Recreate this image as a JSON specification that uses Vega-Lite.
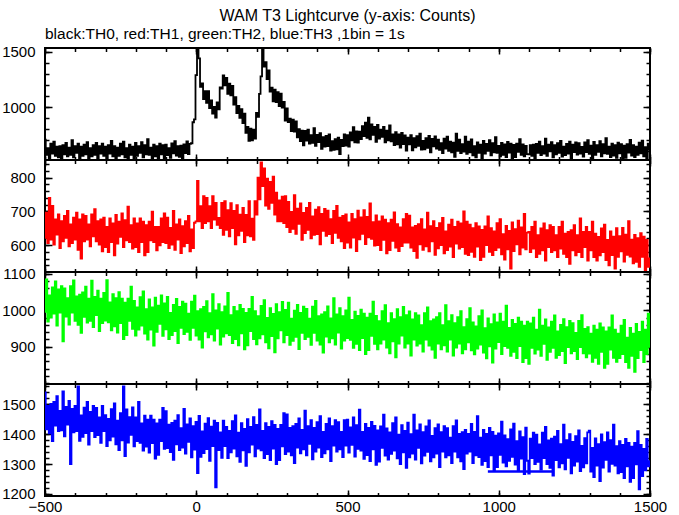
{
"$schema":"https://vega.github.io/schema/vega-lite/v6.json",
"background":"white",
"padding":{"left":0,"top":8,"right":4,"bottom":2},
"title":{"text":"WAM T3 Lightcurve (y-axis: Counts)","anchor":"middle","frame":"group","font":"Liberation Sans","fontSize":16,"fontWeight":"normal","color":"black","offset":2},
"config":{"view":{"stroke":"black","strokeWidth":2},"axis":{"domain":false,"grid":false,"tickColor":"black","tickWidth":1.5,"labelFont":"Liberation Sans","labelFontSize":15,"labelColor":"black","labels":false,"format":"d","zindex":1}},
"spacing":0,
"bounds":"flush",
"datasets":{
"seg":[{"t":964,"d":1275},{"t":1180,"d":1275}],
"lc":[
{"t":-500,"a":705,"b":621,"c":996,"d":1540},{"t":-495,"a":567,"b":696,"c":1085,"d":1416},{"t":-490,"a":628,"b":606,"c":969,"d":1495},{"t":-485,"a":539,"b":740,"c":1041,"d":1403},{"t":-480,"a":669,"b":616,"c":980,"d":1501},{"t":-475,"a":580,"b":716,"c":1063,"d":1377},{"t":-470,"a":688,"b":601,"c":991,"d":1508},{"t":-465,"a":559,"b":676,"c":1079,"d":1429},{"t":-460,"a":642,"b":631,"c":958,"d":1527},{"t":-455,"a":545,"b":691,"c":1057,"d":1410},
{"t":-450,"a":647,"b":591,"c":994,"d":1478},{"t":-445,"a":525,"b":671,"c":1066,"d":1413},{"t":-440,"a":655,"b":611,"c":915,"d":1543},{"t":-435,"a":572,"b":686,"c":1060,"d":1393},{"t":-430,"a":675,"b":621,"c":983,"d":1491},{"t":-425,"a":553,"b":701,"c":1033,"d":1432},{"t":-420,"a":634,"b":596,"c":961,"d":1511},{"t":-415,"a":567,"b":661,"c":1066,"d":1300},{"t":-410,"a":702,"b":606,"c":994,"d":1485},{"t":-405,"a":545,"b":681,"c":1082,"d":1406},
{"t":-400,"a":647,"b":616,"c":971,"d":1495},{"t":-395,"a":586,"b":696,"c":1038,"d":1410},{"t":-390,"a":669,"b":586,"c":960,"d":1560},{"t":-385,"a":532,"b":676,"c":1043,"d":1378},{"t":-380,"a":642,"b":560,"c":938,"d":1463},{"t":-375,"a":559,"b":691,"c":1049,"d":1391},{"t":-370,"a":661,"b":611,"c":982,"d":1489},{"t":-365,"a":572,"b":686,"c":1065,"d":1404},{"t":-360,"a":682,"b":616,"c":966,"d":1508},{"t":-355,"a":539,"b":661,"c":1032,"d":1365},
{"t":-350,"a":628,"b":596,"c":971,"d":1475},{"t":-345,"a":553,"b":691,"c":1081,"d":1410},{"t":-340,"a":655,"b":626,"c":954,"d":1495},{"t":-335,"a":567,"b":706,"c":1037,"d":1390},{"t":-330,"a":675,"b":611,"c":987,"d":1488},{"t":-325,"a":526,"b":671,"c":1054,"d":1397},{"t":-320,"a":647,"b":601,"c":943,"d":1456},{"t":-315,"a":580,"b":676,"c":1032,"d":1371},{"t":-310,"a":669,"b":581,"c":965,"d":1495},{"t":-305,"a":559,"b":681,"c":1048,"d":1410},
{"t":-300,"a":642,"b":594,"c":972,"d":1464},{"t":-295,"a":532,"b":654,"c":1083,"d":1360},{"t":-290,"a":655,"b":579,"c":967,"d":1451},{"t":-285,"a":580,"b":679,"c":1022,"d":1379},{"t":-280,"a":695,"b":609,"c":945,"d":1484},{"t":-275,"a":553,"b":664,"c":1044,"d":1392},{"t":-270,"a":647,"b":569,"c":956,"d":1503},{"t":-265,"a":539,"b":689,"c":1033,"d":1366},{"t":-260,"a":634,"b":604,"c":939,"d":1445},{"t":-255,"a":559,"b":669,"c":1050,"d":1347},
{"t":-250,"a":669,"b":624,"c":965,"d":1470},{"t":-245,"a":572,"b":694,"c":1032,"d":1379},{"t":-240,"a":688,"b":594,"c":921,"d":1560},{"t":-235,"a":545,"b":674,"c":1021,"d":1327},{"t":-230,"a":628,"b":614,"c":932,"d":1483},{"t":-225,"a":526,"b":714,"c":1032,"d":1372},{"t":-220,"a":661,"b":609,"c":971,"d":1457},{"t":-215,"a":567,"b":659,"c":1065,"d":1398},{"t":-210,"a":642,"b":589,"c":949,"d":1490},{"t":-205,"a":525,"b":679,"c":1026,"d":1359},
{"t":-200,"a":675,"b":594,"c":931,"d":1456},{"t":-195,"a":559,"b":664,"c":1008,"d":1377},{"t":-190,"a":647,"b":579,"c":947,"d":1508},{"t":-185,"a":586,"b":679,"c":1036,"d":1371},{"t":-180,"a":682,"b":609,"c":958,"d":1436},{"t":-175,"a":545,"b":669,"c":1052,"d":1345},{"t":-170,"a":655,"b":569,"c":936,"d":1462},{"t":-165,"a":572,"b":659,"c":1003,"d":1358},{"t":-160,"a":709,"b":579,"c":920,"d":1449},{"t":-155,"a":567,"b":669,"c":1030,"d":1338},
{"t":-150,"a":634,"b":614,"c":947,"d":1462},{"t":-145,"a":539,"b":699,"c":1008,"d":1370},{"t":-140,"a":661,"b":609,"c":903,"d":1449},{"t":-135,"a":553,"b":654,"c":1035,"d":1318},{"t":-130,"a":647,"b":584,"c":941,"d":1436},{"t":-125,"a":532,"b":654,"c":1013,"d":1331},{"t":-120,"a":669,"b":599,"c":963,"d":1449},{"t":-115,"a":572,"b":679,"c":1041,"d":1377},{"t":-110,"a":655,"b":609,"c":930,"d":1488},{"t":-105,"a":525,"b":694,"c":1019,"d":1351},
{"t":-100,"a":660,"b":606,"c":948,"d":1477},{"t":-95,"a":565,"b":681,"c":1037,"d":1353},{"t":-90,"a":629,"b":591,"c":921,"d":1432},{"t":-85,"a":540,"b":651,"c":993,"d":1340},{"t":-80,"a":671,"b":601,"c":932,"d":1438},{"t":-75,"a":582,"b":701,"c":1015,"d":1314},{"t":-70,"a":692,"b":586,"c":943,"d":1445},{"t":-65,"a":562,"b":661,"c":1031,"d":1366},{"t":-60,"a":647,"b":616,"c":910,"d":1464},{"t":-55,"a":550,"b":676,"c":1009,"d":1347},
{"t":-50,"a":652,"b":576,"c":952,"d":1420},{"t":-45,"a":524,"b":656,"c":1024,"d":1355},{"t":-40,"a":663,"b":596,"c":935,"d":1485},{"t":-35,"a":583,"b":671,"c":1018,"d":1335},{"t":-30,"a":690,"b":606,"c":941,"d":1433},{"t":-25,"a":574,"b":686,"c":991,"d":1374},{"t":-20,"a":667,"b":581,"c":919,"d":1453},{"t":-15,"a":673,"b":646,"c":1024,"d":1322},{"t":-10,"a":863,"b":591,"c":952,"d":1427},{"t":-5,"a":889,"b":666,"c":1040,"d":1348},
{"t":0,"a":1290,"b":670,"c":931,"d":1441},{"t":5,"a":1535,"b":790,"c":998,"d":1270},{"t":10,"a":1442,"b":670,"c":920,"d":1461},{"t":15,"a":1185,"b":715,"c":1003,"d":1324},{"t":20,"a":1215,"b":650,"c":898,"d":1409},{"t":25,"a":1072,"b":745,"c":1009,"d":1337},{"t":30,"a":1144,"b":665,"c":942,"d":1435},{"t":35,"a":1040,"b":740,"c":1025,"d":1350},{"t":40,"a":1145,"b":670,"c":926,"d":1454},{"t":45,"a":992,"b":715,"c":992,"d":1311},
{"t":50,"a":1061,"b":650,"c":934,"d":1425},{"t":55,"a":941,"b":745,"c":1044,"d":1360},{"t":60,"a":1003,"b":675,"c":917,"d":1445},{"t":65,"a":905,"b":725,"c":1000,"d":1222},{"t":70,"a":1043,"b":660,"c":950,"d":1438},{"t":75,"a":979,"b":680,"c":1017,"d":1347},{"t":80,"a":1180,"b":650,"c":906,"d":1406},{"t":85,"a":1168,"b":725,"c":995,"d":1321},{"t":90,"a":1287,"b":630,"c":928,"d":1445},{"t":95,"a":1197,"b":730,"c":1011,"d":1360},
{"t":100,"a":1265,"b":645,"c":937,"d":1424},{"t":105,"a":1120,"b":703,"c":1048,"d":1320},{"t":110,"a":1213,"b":626,"c":932,"d":1411},{"t":115,"a":1108,"b":724,"c":987,"d":1339},{"t":120,"a":1193,"b":650,"c":910,"d":1444},{"t":125,"a":1024,"b":701,"c":1009,"d":1352},{"t":130,"a":1090,"b":602,"c":921,"d":1463},{"t":135,"a":947,"b":718,"c":998,"d":1326},{"t":140,"a":1012,"b":629,"c":904,"d":1405},{"t":145,"a":902,"b":690,"c":1015,"d":1307},
{"t":150,"a":982,"b":642,"c":937,"d":1437},{"t":155,"a":855,"b":710,"c":1004,"d":1346},{"t":160,"a":941,"b":609,"c":893,"d":1418},{"t":165,"a":768,"b":689,"c":993,"d":1294},{"t":170,"a":821,"b":629,"c":904,"d":1450},{"t":175,"a":694,"b":730,"c":1004,"d":1339},{"t":180,"a":804,"b":626,"c":943,"d":1424},{"t":185,"a":698,"b":678,"c":1037,"d":1365},{"t":190,"a":795,"b":615,"c":921,"d":1457},{"t":195,"a":715,"b":730,"c":998,"d":1326},
{"t":200,"a":948,"b":690,"c":907,"d":1431},{"t":205,"a":912,"b":800,"c":984,"d":1352},{"t":210,"a":1120,"b":735,"c":923,"d":1483},{"t":215,"a":1279,"b":845,"c":1012,"d":1346},{"t":220,"a":1535,"b":775,"c":934,"d":1411},{"t":225,"a":1368,"b":827,"c":1028,"d":1320},{"t":230,"a":1408,"b":717,"c":912,"d":1437},{"t":235,"a":1255,"b":797,"c":979,"d":1333},{"t":240,"a":1332,"b":707,"c":896,"d":1424},{"t":245,"a":1140,"b":787,"c":1006,"d":1313},
{"t":250,"a":1177,"b":725,"c":929,"d":1444},{"t":255,"a":1052,"b":803,"c":990,"d":1352},{"t":260,"a":1159,"b":690,"c":885,"d":1431},{"t":265,"a":1046,"b":755,"c":1017,"d":1300},{"t":270,"a":1135,"b":670,"c":923,"d":1418},{"t":275,"a":1010,"b":732,"c":995,"d":1313},{"t":280,"a":1122,"b":670,"c":945,"d":1431},{"t":285,"a":995,"b":743,"c":1023,"d":1359},{"t":290,"a":1048,"b":665,"c":912,"d":1470},{"t":295,"a":877,"b":745,"c":1001,"d":1333},
{"t":300,"a":989,"b":653,"c":932,"d":1466},{"t":305,"a":865,"b":728,"c":1021,"d":1342},{"t":310,"a":896,"b":638,"c":905,"d":1421},{"t":315,"a":782,"b":698,"c":977,"d":1329},{"t":320,"a":887,"b":648,"c":916,"d":1427},{"t":325,"a":778,"b":748,"c":999,"d":1303},{"t":330,"a":871,"b":633,"c":927,"d":1434},{"t":335,"a":727,"b":708,"c":1015,"d":1355},{"t":340,"a":800,"b":663,"c":894,"d":1453},{"t":345,"a":693,"b":723,"c":993,"d":1336},
{"t":350,"a":788,"b":615,"c":938,"d":1414},{"t":355,"a":654,"b":695,"c":1010,"d":1349},{"t":360,"a":785,"b":635,"c":921,"d":1479},{"t":365,"a":697,"b":710,"c":1004,"d":1329},{"t":370,"a":796,"b":645,"c":927,"d":1427},{"t":375,"a":670,"b":725,"c":977,"d":1368},{"t":380,"a":747,"b":620,"c":905,"d":1447},{"t":385,"a":677,"b":685,"c":1010,"d":1316},{"t":390,"a":809,"b":630,"c":938,"d":1421},{"t":395,"a":649,"b":705,"c":1026,"d":1342},
{"t":400,"a":748,"b":632,"c":917,"d":1440},{"t":405,"a":684,"b":712,"c":984,"d":1355},{"t":410,"a":764,"b":602,"c":906,"d":1460},{"t":415,"a":623,"b":692,"c":989,"d":1323},{"t":420,"a":729,"b":642,"c":884,"d":1408},{"t":425,"a":642,"b":707,"c":995,"d":1336},{"t":430,"a":740,"b":627,"c":928,"d":1434},{"t":435,"a":647,"b":702,"c":1011,"d":1349},{"t":440,"a":753,"b":632,"c":912,"d":1453},{"t":445,"a":606,"b":677,"c":978,"d":1310},
{"t":450,"a":691,"b":606,"c":923,"d":1427},{"t":455,"a":612,"b":701,"c":1033,"d":1362},{"t":460,"a":710,"b":636,"c":906,"d":1447},{"t":465,"a":618,"b":716,"c":989,"d":1342},{"t":470,"a":723,"b":621,"c":939,"d":1440},{"t":475,"a":574,"b":681,"c":1006,"d":1349},{"t":480,"a":703,"b":611,"c":895,"d":1408},{"t":485,"a":648,"b":686,"c":984,"d":1323},{"t":490,"a":752,"b":591,"c":917,"d":1447},{"t":495,"a":652,"b":691,"c":1000,"d":1362},
{"t":500,"a":747,"b":607,"c":924,"d":1449},{"t":505,"a":643,"b":667,"c":1035,"d":1338},{"t":510,"a":770,"b":592,"c":919,"d":1423},{"t":515,"a":699,"b":692,"c":974,"d":1364},{"t":520,"a":818,"b":622,"c":897,"d":1456},{"t":525,"a":681,"b":677,"c":996,"d":1325},{"t":530,"a":780,"b":582,"c":908,"d":1430},{"t":535,"a":678,"b":702,"c":985,"d":1351},{"t":540,"a":779,"b":617,"c":891,"d":1482},{"t":545,"a":710,"b":682,"c":1002,"d":1345},
{"t":550,"a":827,"b":633,"c":924,"d":1408},{"t":555,"a":737,"b":703,"c":991,"d":1317},{"t":560,"a":859,"b":603,"c":880,"d":1434},{"t":565,"a":721,"b":683,"c":980,"d":1330},{"t":570,"a":905,"b":623,"c":891,"d":1421},{"t":575,"a":709,"b":723,"c":991,"d":1310},{"t":580,"a":844,"b":618,"c":930,"d":1441},{"t":585,"a":748,"b":668,"c":1024,"d":1349},{"t":590,"a":820,"b":598,"c":908,"d":1428},{"t":595,"a":685,"b":688,"c":985,"d":1297},
{"t":600,"a":840,"b":600,"c":893,"d":1413},{"t":605,"a":716,"b":670,"c":970,"d":1308},{"t":610,"a":797,"b":585,"c":909,"d":1426},{"t":615,"a":730,"b":685,"c":998,"d":1354},{"t":620,"a":821,"b":615,"c":920,"d":1465},{"t":625,"a":680,"b":675,"c":1014,"d":1328},{"t":630,"a":786,"b":575,"c":898,"d":1419},{"t":635,"a":700,"b":665,"c":965,"d":1315},{"t":640,"a":834,"b":585,"c":882,"d":1406},{"t":645,"a":689,"b":675,"c":992,"d":1334},
{"t":650,"a":753,"b":612,"c":915,"d":1437},{"t":655,"a":655,"b":697,"c":976,"d":1345},{"t":660,"a":774,"b":592,"c":871,"d":1456},{"t":665,"a":662,"b":662,"c":1003,"d":1319},{"t":670,"a":752,"b":582,"c":909,"d":1398},{"t":675,"a":633,"b":652,"c":981,"d":1300},{"t":680,"a":766,"b":597,"c":931,"d":1430},{"t":685,"a":665,"b":677,"c":1009,"d":1339},{"t":690,"a":745,"b":607,"c":898,"d":1411},{"t":695,"a":606,"b":692,"c":987,"d":1287},
{"t":700,"a":724,"b":607,"c":909,"d":1439},{"t":705,"a":663,"b":687,"c":997,"d":1322},{"t":710,"a":746,"b":592,"c":876,"d":1400},{"t":715,"a":609,"b":652,"c":975,"d":1335},{"t":720,"a":719,"b":582,"c":920,"d":1465},{"t":725,"a":636,"b":657,"c":992,"d":1315},{"t":730,"a":738,"b":562,"c":903,"d":1413},{"t":735,"a":649,"b":662,"c":986,"d":1354},{"t":740,"a":759,"b":602,"c":909,"d":1433},{"t":745,"a":616,"b":677,"c":959,"d":1302},
{"t":750,"a":693,"b":586,"c":887,"d":1407},{"t":755,"a":618,"b":646,"c":992,"d":1328},{"t":760,"a":720,"b":596,"c":920,"d":1426},{"t":765,"a":632,"b":696,"c":1008,"d":1341},{"t":770,"a":740,"b":581,"c":903,"d":1446},{"t":775,"a":591,"b":656,"c":970,"d":1309},{"t":780,"a":712,"b":611,"c":892,"d":1394},{"t":785,"a":645,"b":671,"c":975,"d":1322},{"t":790,"a":734,"b":571,"c":870,"d":1420},{"t":795,"a":624,"b":651,"c":981,"d":1335},
{"t":800,"a":706,"b":590,"c":909,"d":1433},{"t":805,"a":612,"b":665,"c":992,"d":1290},{"t":810,"a":673,"b":600,"c":893,"d":1407},{"t":815,"a":584,"b":680,"c":959,"d":1342},{"t":820,"a":714,"b":575,"c":904,"d":1427},{"t":825,"a":625,"b":640,"c":1014,"d":1322},{"t":830,"a":733,"b":585,"c":887,"d":1420},{"t":835,"a":604,"b":660,"c":970,"d":1329},{"t":840,"a":687,"b":595,"c":920,"d":1388},{"t":845,"a":590,"b":675,"c":987,"d":1303},
{"t":850,"a":678,"b":564,"c":876,"d":1427},{"t":855,"a":550,"b":654,"c":965,"d":1342},{"t":860,"a":760,"b":604,"c":898,"d":1446},{"t":865,"a":603,"b":669,"c":981,"d":1322},{"t":870,"a":706,"b":589,"c":909,"d":1401},{"t":875,"a":584,"b":664,"c":998,"d":1309},{"t":880,"a":665,"b":594,"c":882,"d":1407},{"t":885,"a":598,"b":700,"c":954,"d":1283},{"t":890,"a":733,"b":574,"c":893,"d":1414},{"t":895,"a":576,"b":669,"c":976,"d":1335},
{"t":900,"a":688,"b":570,"c":912,"d":1401},{"t":905,"a":591,"b":660,"c":1006,"d":1342},{"t":910,"a":707,"b":580,"c":890,"d":1434},{"t":915,"a":564,"b":650,"c":967,"d":1303},{"t":920,"a":647,"b":565,"c":879,"d":1408},{"t":925,"a":545,"b":665,"c":956,"d":1329},{"t":930,"a":680,"b":595,"c":895,"d":1460},{"t":935,"a":586,"b":655,"c":984,"d":1323},{"t":940,"a":661,"b":555,"c":906,"d":1388},{"t":945,"a":531,"b":645,"c":1000,"d":1297},
{"t":950,"a":694,"b":565,"c":884,"d":1414},{"t":955,"a":578,"b":655,"c":951,"d":1310},{"t":960,"a":666,"b":600,"c":868,"d":1401},{"t":965,"a":605,"b":685,"c":978,"d":1290},{"t":970,"a":701,"b":580,"c":901,"d":1421},{"t":975,"a":564,"b":650,"c":962,"d":1329},{"t":980,"a":674,"b":570,"c":857,"d":1408},{"t":985,"a":591,"b":640,"c":989,"d":1277},{"t":990,"a":728,"b":585,"c":895,"d":1395},{"t":995,"a":586,"b":665,"c":967,"d":1290},
{"t":1000,"a":649,"b":592,"c":913,"d":1403},{"t":1005,"a":554,"b":677,"c":991,"d":1331},{"t":1010,"a":676,"b":572,"c":880,"d":1442},{"t":1015,"a":568,"b":632,"c":969,"d":1305},{"t":1020,"a":662,"b":557,"c":902,"d":1396},{"t":1025,"a":547,"b":657,"c":1013,"d":1292},{"t":1030,"a":684,"b":587,"c":897,"d":1383},{"t":1035,"a":587,"b":642,"c":952,"d":1311},{"t":1040,"a":670,"b":530,"c":875,"d":1416},{"t":1045,"a":534,"b":667,"c":974,"d":1324},
{"t":1050,"a":657,"b":582,"c":886,"d":1435},{"t":1055,"a":547,"b":647,"c":963,"d":1298},{"t":1060,"a":670,"b":602,"c":869,"d":1377},{"t":1065,"a":595,"b":672,"c":980,"d":1279},{"t":1070,"a":710,"b":572,"c":902,"d":1409},{"t":1075,"a":568,"b":652,"c":969,"d":1318},{"t":1080,"a":662,"b":592,"c":858,"d":1390},{"t":1085,"a":554,"b":692,"c":958,"d":1266},{"t":1090,"a":649,"b":587,"c":869,"d":1422},{"t":1095,"a":574,"b":637,"c":969,"d":1311},
{"t":1100,"a":572,"b":639,"c":853,"d":1268},{"t":1105,"a":655,"b":579,"c":964,"d":1385},{"t":1110,"a":558,"b":654,"c":897,"d":1320},{"t":1115,"a":660,"b":589,"c":980,"d":1405},{"t":1120,"a":532,"b":669,"c":881,"d":1300},{"t":1125,"a":668,"b":564,"c":947,"d":1398},{"t":1130,"a":585,"b":629,"c":892,"d":1307},{"t":1135,"a":688,"b":574,"c":1002,"d":1366},{"t":1140,"a":566,"b":649,"c":875,"d":1281},{"t":1145,"a":647,"b":584,"c":958,"d":1405},
{"t":1150,"a":580,"b":664,"c":908,"d":1320},{"t":1155,"a":715,"b":554,"c":975,"d":1424},{"t":1160,"a":558,"b":644,"c":864,"d":1300},{"t":1165,"a":660,"b":594,"c":953,"d":1379},{"t":1170,"a":599,"b":659,"c":886,"d":1287},{"t":1175,"a":682,"b":579,"c":969,"d":1385},{"t":1180,"a":545,"b":654,"c":897,"d":1261},{"t":1185,"a":655,"b":584,"c":986,"d":1392},{"t":1190,"a":572,"b":629,"c":870,"d":1313},{"t":1195,"a":674,"b":564,"c":942,"d":1411},
{"t":1200,"a":585,"b":654,"c":877,"d":1289},{"t":1205,"a":695,"b":589,"c":960,"d":1367},{"t":1210,"a":552,"b":669,"c":888,"d":1302},{"t":1215,"a":641,"b":574,"c":976,"d":1432},{"t":1220,"a":566,"b":634,"c":855,"d":1282},{"t":1225,"a":668,"b":564,"c":954,"d":1380},{"t":1230,"a":580,"b":639,"c":899,"d":1321},{"t":1235,"a":688,"b":544,"c":971,"d":1400},{"t":1240,"a":539,"b":644,"c":882,"d":1269},{"t":1245,"a":660,"b":584,"c":965,"d":1374},
{"t":1250,"a":592,"b":659,"c":888,"d":1295},{"t":1255,"a":681,"b":569,"c":938,"d":1393},{"t":1260,"a":571,"b":629,"c":866,"d":1308},{"t":1265,"a":673,"b":579,"c":971,"d":1413},{"t":1270,"a":579,"b":679,"c":899,"d":1276},{"t":1275,"a":640,"b":564,"c":987,"d":1361},{"t":1280,"a":551,"b":639,"c":882,"d":1289},{"t":1285,"a":681,"b":594,"c":949,"d":1387},{"t":1290,"a":592,"b":654,"c":871,"d":1302},{"t":1295,"a":700,"b":554,"c":954,"d":1406},
{"t":1300,"a":576,"b":639,"c":881,"d":1412},{"t":1305,"a":651,"b":584,"c":936,"d":1275},{"t":1310,"a":525,"b":669,"c":859,"d":1354},{"t":1315,"a":684,"b":564,"c":958,"d":1256},{"t":1320,"a":568,"b":634,"c":870,"d":1386},{"t":1325,"a":656,"b":554,"c":947,"d":1295},{"t":1330,"a":595,"b":624,"c":853,"d":1367},{"t":1335,"a":691,"b":569,"c":964,"d":1243},{"t":1340,"a":554,"b":649,"c":886,"d":1399},{"t":1345,"a":664,"b":579,"c":953,"d":1288},
{"t":1350,"a":581,"b":660,"c":842,"d":1373},{"t":1355,"a":718,"b":555,"c":942,"d":1314},{"t":1360,"a":576,"b":615,"c":853,"d":1406},{"t":1365,"a":643,"b":540,"c":953,"d":1275},{"t":1370,"a":548,"b":640,"c":892,"d":1380},{"t":1375,"a":670,"b":570,"c":986,"d":1301},{"t":1380,"a":562,"b":625,"c":870,"d":1432},{"t":1385,"a":656,"b":530,"c":947,"d":1295},{"t":1390,"a":541,"b":650,"c":859,"d":1360},{"t":1395,"a":678,"b":565,"c":936,"d":1269},
{"t":1400,"a":581,"b":626,"c":869,"d":1377},{"t":1405,"a":664,"b":581,"c":958,"d":1273},{"t":1410,"a":528,"b":651,"c":880,"d":1364},{"t":1415,"a":651,"b":551,"c":974,"d":1253},{"t":1420,"a":541,"b":631,"c":858,"d":1384},{"t":1425,"a":664,"b":571,"c":925,"d":1292},{"t":1430,"a":589,"b":671,"c":842,"d":1371},{"t":1435,"a":704,"b":566,"c":952,"d":1240},{"t":1440,"a":562,"b":616,"c":875,"d":1358},{"t":1445,"a":656,"b":546,"c":936,"d":1253},
{"t":1450,"a":548,"b":630,"c":831,"d":1371},{"t":1455,"a":643,"b":550,"c":963,"d":1299},{"t":1460,"a":568,"b":620,"c":869,"d":1410},{"t":1465,"a":678,"b":535,"c":941,"d":1215},{"t":1470,"a":581,"b":635,"c":891,"d":1364},{"t":1475,"a":697,"b":565,"c":969,"d":1260},{"t":1480,"a":554,"b":625,"c":858,"d":1351},{"t":1485,"a":637,"b":525,"c":947,"d":1279},{"t":1490,"a":535,"b":615,"c":880,"d":1384},{"t":1495,"a":670,"b":535,"c":991,"d":1292},
{"t":1500,"a":618,"b":560,"c":900,"d":1310}
]},
"data":{"name":"lc"},
"vconcat":[
{"width":605,"height":112,
"title":{"text":"black:TH0, red:TH1, green:TH2, blue:TH3 ,1bin = 1s","anchor":"start","frame":"group","font":"Liberation Sans","fontSize":15.5,"fontWeight":"normal","color":"black","offset":2},
"layer":[
{"mark":{"type":"line","color":"#000000","strokeWidth":1.8,"interpolate":"step","clip":true},"encoding":{
"x":{"field":"t","type":"quantitative","scale":{"domain":[-500,1500],"nice":false,"zero":false},"axis":{"orient":"bottom","values":[-500,0,500,1000,1500],"offset":-6,"tickSize":6,"title":null}},
"y":{"field":"a","type":"quantitative","scale":{"domain":[521,1536],"nice":false,"zero":false},"axis":{"orient":"left","values":[1000,1500],"offset":-7,"tickSize":7,"labels":true,"labelPadding":10,"title":null}}}},
{"mark":{"type":"line","opacity":0},"encoding":{
"x":{"field":"t","type":"quantitative","axis":{"orient":"bottom","values":[-500,-400,-300,-200,-100,0,100,200,300,400,500,600,700,800,900,1000,1100,1200,1300,1400,1500],"offset":-3.5,"tickSize":3.5,"title":null}},
"y":{"field":"a","type":"quantitative","axis":{"orient":"left","values":[600,700,800,900,1000,1100,1200,1300,1400,1500],"offset":-4,"tickSize":4,"title":null}}}},
{"mark":{"type":"line","opacity":0},"encoding":{
"x":{"field":"t","type":"quantitative","axis":{"orient":"top","values":[-500,0,500,1000,1500],"offset":-6,"tickSize":6,"title":null}},
"y":{"field":"a","type":"quantitative","axis":{"orient":"right","values":[1000,1500],"offset":-7,"tickSize":7,"title":null}}}},
{"mark":{"type":"line","opacity":0},"encoding":{
"x":{"field":"t","type":"quantitative","axis":{"orient":"top","values":[-500,-400,-300,-200,-100,0,100,200,300,400,500,600,700,800,900,1000,1100,1200,1300,1400,1500],"offset":-3.5,"tickSize":3.5,"title":null}},
"y":{"field":"a","type":"quantitative","axis":{"orient":"right","values":[600,700,800,900,1000,1100,1200,1300,1400,1500],"offset":-4,"tickSize":4,"title":null}}}}
],
"resolve":{"axis":{"x":"independent","y":"independent"}}},
{"width":605,"height":112,
"layer":[
{"mark":{"type":"line","color":"#ff0000","strokeWidth":1.8,"interpolate":"step","clip":true},"encoding":{
"x":{"field":"t","type":"quantitative","scale":{"domain":[-500,1500],"nice":false,"zero":false},"axis":{"orient":"bottom","values":[-500,0,500,1000,1500],"offset":-6,"tickSize":6,"title":null}},
"y":{"field":"b","type":"quantitative","scale":{"domain":[520,852],"nice":false,"zero":false},"axis":{"orient":"left","values":[600,700,800],"offset":-7,"tickSize":7,"labels":true,"labelPadding":10,"title":null}}}},
{"mark":{"type":"line","opacity":0},"encoding":{
"x":{"field":"t","type":"quantitative","axis":{"orient":"bottom","values":[-500,-400,-300,-200,-100,0,100,200,300,400,500,600,700,800,900,1000,1100,1200,1300,1400,1500],"offset":-3.5,"tickSize":3.5,"title":null}},
"y":{"field":"b","type":"quantitative","axis":{"orient":"left","values":[540,560,580,600,620,640,660,680,700,720,740,760,780,800,820,840],"offset":-4,"tickSize":4,"title":null}}}},
{"mark":{"type":"line","opacity":0},"encoding":{
"x":{"field":"t","type":"quantitative","axis":{"orient":"top","values":[-500,0,500,1000,1500],"offset":-6,"tickSize":6,"title":null}},
"y":{"field":"b","type":"quantitative","axis":{"orient":"right","values":[600,700,800],"offset":-7,"tickSize":7,"title":null}}}},
{"mark":{"type":"line","opacity":0},"encoding":{
"x":{"field":"t","type":"quantitative","axis":{"orient":"top","values":[-500,-400,-300,-200,-100,0,100,200,300,400,500,600,700,800,900,1000,1100,1200,1300,1400,1500],"offset":-3.5,"tickSize":3.5,"title":null}},
"y":{"field":"b","type":"quantitative","axis":{"orient":"right","values":[540,560,580,600,620,640,660,680,700,720,740,760,780,800,820,840],"offset":-4,"tickSize":4,"title":null}}}}
],
"resolve":{"axis":{"x":"independent","y":"independent"}}},
{"width":605,"height":112,
"layer":[
{"mark":{"type":"line","color":"#00ff00","strokeWidth":1.8,"interpolate":"step","clip":true},"encoding":{
"x":{"field":"t","type":"quantitative","scale":{"domain":[-500,1500],"nice":false,"zero":false},"axis":{"orient":"bottom","values":[-500,0,500,1000,1500],"offset":-6,"tickSize":6,"title":null}},
"y":{"field":"c","type":"quantitative","scale":{"domain":[798,1105],"nice":false,"zero":false},"axis":{"orient":"left","values":[900,1000,1100],"offset":-7,"tickSize":7,"labels":true,"labelPadding":10,"title":null}}}},
{"mark":{"type":"line","opacity":0},"encoding":{
"x":{"field":"t","type":"quantitative","axis":{"orient":"bottom","values":[-500,-400,-300,-200,-100,0,100,200,300,400,500,600,700,800,900,1000,1100,1200,1300,1400,1500],"offset":-3.5,"tickSize":3.5,"title":null}},
"y":{"field":"c","type":"quantitative","axis":{"orient":"left","values":[800,820,840,860,880,900,920,940,960,980,1000,1020,1040,1060,1080,1100],"offset":-4,"tickSize":4,"title":null}}}},
{"mark":{"type":"line","opacity":0},"encoding":{
"x":{"field":"t","type":"quantitative","axis":{"orient":"top","values":[-500,0,500,1000,1500],"offset":-6,"tickSize":6,"title":null}},
"y":{"field":"c","type":"quantitative","axis":{"orient":"right","values":[900,1000,1100],"offset":-7,"tickSize":7,"title":null}}}},
{"mark":{"type":"line","opacity":0},"encoding":{
"x":{"field":"t","type":"quantitative","axis":{"orient":"top","values":[-500,-400,-300,-200,-100,0,100,200,300,400,500,600,700,800,900,1000,1100,1200,1300,1400,1500],"offset":-3.5,"tickSize":3.5,"title":null}},
"y":{"field":"c","type":"quantitative","axis":{"orient":"right","values":[800,820,840,860,880,900,920,940,960,980,1000,1020,1040,1060,1080,1100],"offset":-4,"tickSize":4,"title":null}}}}
],
"resolve":{"axis":{"x":"independent","y":"independent"}}},
{"width":605,"height":112,
"layer":[
{"mark":{"type":"line","color":"#0000ff","strokeWidth":1.8,"interpolate":"step","clip":true},"encoding":{
"x":{"field":"t","type":"quantitative","scale":{"domain":[-500,1500],"nice":false,"zero":false},"axis":{"orient":"bottom","values":[-500,0,500,1000,1500],"offset":-6,"tickSize":6,"labels":true,"labelPadding":3,"labelFlush":false,"title":null}},
"y":{"field":"d","type":"quantitative","scale":{"domain":[1193,1568],"nice":false,"zero":false},"axis":{"orient":"left","values":[1200,1300,1400,1500],"offset":-7,"tickSize":7,"labels":true,"labelPadding":10,"title":null}}}},
{"data":{"name":"seg"},"mark":{"type":"line","color":"#0000ff","strokeWidth":2.5,"clip":true},"encoding":{
"x":{"field":"t","type":"quantitative","axis":{"orient":"bottom","values":[-500,-400,-300,-200,-100,0,100,200,300,400,500,600,700,800,900,1000,1100,1200,1300,1400,1500],"offset":-3.5,"tickSize":3.5,"title":null}},
"y":{"field":"d","type":"quantitative","axis":{"orient":"left","values":[1200,1220,1240,1260,1280,1300,1320,1340,1360,1380,1400,1420,1440,1460,1480,1500,1520,1540,1560],"offset":-4,"tickSize":4,"title":null}}}},
{"mark":{"type":"line","opacity":0},"encoding":{
"x":{"field":"t","type":"quantitative","axis":{"orient":"top","values":[-500,0,500,1000,1500],"offset":-6,"tickSize":6,"title":null}},
"y":{"field":"d","type":"quantitative","axis":{"orient":"right","values":[1200,1300,1400,1500],"offset":-7,"tickSize":7,"title":null}}}},
{"mark":{"type":"line","opacity":0},"encoding":{
"x":{"field":"t","type":"quantitative","axis":{"orient":"top","values":[-500,-400,-300,-200,-100,0,100,200,300,400,500,600,700,800,900,1000,1100,1200,1300,1400,1500],"offset":-3.5,"tickSize":3.5,"title":null}},
"y":{"field":"d","type":"quantitative","axis":{"orient":"right","values":[1200,1220,1240,1260,1280,1300,1320,1340,1360,1380,1400,1420,1440,1460,1480,1500,1520,1540,1560],"offset":-4,"tickSize":4,"title":null}}}}
],
"resolve":{"axis":{"x":"independent","y":"independent"}}}
]
}
